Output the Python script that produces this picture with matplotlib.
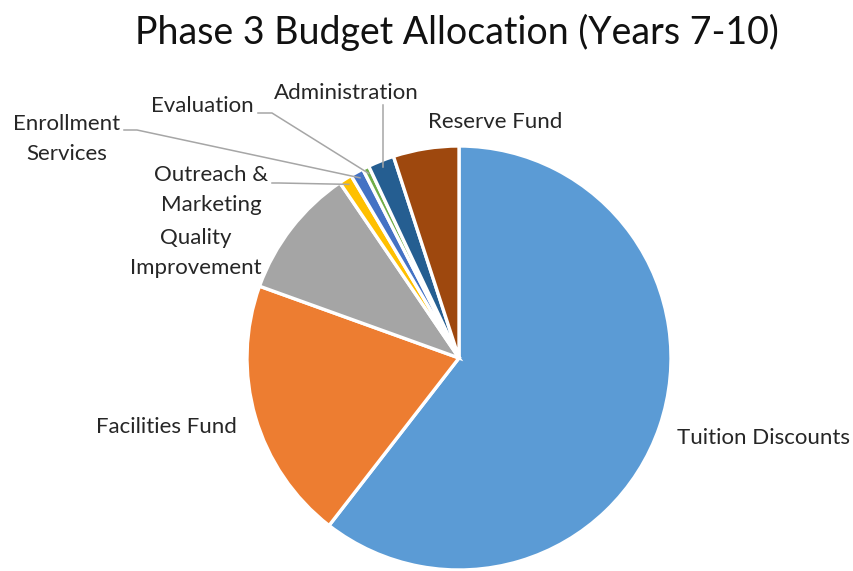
import matplotlib
matplotlib.use("Agg")
import matplotlib.pyplot as plt
import numpy as np
from matplotlib.lines import Line2D

# Budget shares (percent of Phase 3 total)
categories = ["Tuition Discounts", "Facilities Fund", "Quality Improvement",
              "Outreach & Marketing", "Enrollment Services", "Evaluation",
              "Administration", "Reserve Fund"]
shares = [60.5, 20.0, 10.0, 1.0, 1.0, 0.5, 2.0, 5.0]
colors = ["#5B9BD5", "#ED7D31", "#A5A5A5", "#FFC000", "#4472C4",
          "#70AD47", "#255E91", "#9E480E"]

W, H = 854, 571
fig = plt.figure(figsize=(W / 100, H / 100), dpi=100)
FONT = ["Lato", "DejaVu Sans"]
TXT = "#262626"


def fx(px):
    return px / W


def fy(py):
    return 1 - py / H


# pie centre and radius in pixels
cx, cy, r = 459, 358, 212
ax = fig.add_axes([fx(cx - r), fy(cy + r), 2 * r / W, 2 * r / H])
wedges, _ = ax.pie(shares, colors=colors, startangle=90, counterclock=False,
                   radius=1.0,
                   wedgeprops=dict(edgecolor="white", linewidth=2.4))
ax.set_xlim(-1, 1)
ax.set_ylim(-1, 1)
ax.set_aspect("auto")
ax.axis("off")

fig.text(fx(457), fy(32), "Phase 3 Budget Allocation (Years 7-10)",
         ha="center", va="center", fontsize=27, color="#111111", family=FONT)


def edge_point(i, frac=0.97):
    w = wedges[i]
    ang = np.deg2rad((w.theta1 + w.theta2) / 2)
    x = cx + r * frac * np.cos(ang)
    y = cy - r * frac * np.sin(ang)
    return x, y


def label(text, x, y, ha="center"):
    fig.text(fx(x), fy(y), text, ha=ha, va="center", fontsize=16,
             color=TXT, family=FONT, linespacing=1.6)


def leader(pts):
    xs = [fx(p[0]) for p in pts]
    ys = [fy(p[1]) for p in pts]
    fig.add_artist(Line2D(xs, ys, color="#A6A6A6", linewidth=1.1,
                          transform=fig.transFigure))


label("Tuition Discounts", 677, 438, ha="left")
label("Facilities Fund", 237, 427, ha="right")
label("Quality\nImprovement", 196, 253)
label("Outreach &\nMarketing", 211, 190)
label("Enrollment\nServices", 67, 139)
label("Evaluation", 202, 106)
label("Administration", 346, 93)
label("Reserve Fund", 495, 122)

# leader lines for the thin slices
leader([(272, 183), (279, 183), edge_point(3)])
leader([(124, 130), (137, 130), edge_point(4)])
leader([(258, 113), (272, 113), edge_point(5)])
ex, ey = edge_point(6)
leader([(ex, 105), (ex, ey)])

fig.savefig("out.png", dpi=100)
